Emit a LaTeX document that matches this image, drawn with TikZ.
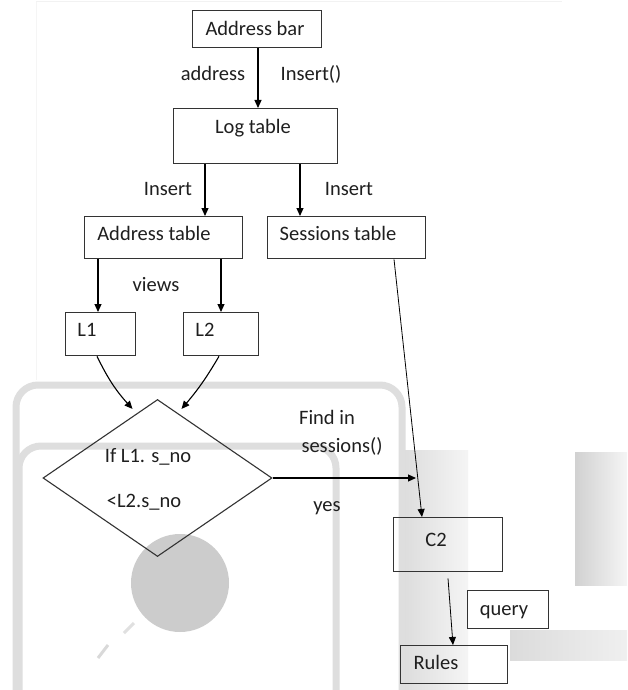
\documentclass[tikz,border=0pt]{standalone}
\usepackage{fontspec}
\setmainfont{Carlito}
\usetikzlibrary{arrows.meta,shapes.geometric,calc}
\begin{document}
\begin{tikzpicture}[x=1pt,y=-1pt,
  box/.style={draw=black!80,line width=1.3pt,anchor=north west,inner sep=0pt},
  lbl/.style={font=\fontsize{20.5}{24}\selectfont,text=black!88,inner sep=0pt,text height=13pt,text depth=4pt,yshift=-2pt},
  arr/.style={line width=1.1pt,-{Triangle[length=8pt,width=7pt]}},
  thin/.style={line width=0.8pt,-{Triangle[length=8pt,width=7pt]}},
  ghost/.style={draw=black!13,line width=7pt,rounded corners=22pt}]
\useasboundingbox[fill=white] (0,0) rectangle (627,690);
% faint background artefacts
\draw[draw=black!5,line width=1pt] (36,2) -- (562,2);
\draw[draw=black!4,line width=1pt] (36,2) -- (36,380);
\shade[left color=black!14,right color=black!4] (400,450) rectangle (468,690);
\shade[left color=black!18,right color=black!4] (575,452) rectangle (627,585);
\shade[left color=black!14,right color=black!6] (510,630) rectangle (627,660);
\draw[ghost] (16,690) -- (16,385) -- (402,385) -- (402,690);
\draw[ghost] (19,690) -- (19,446) -- (336,446) -- (336,690);
\fill[black!20] (180,583) circle (49);
\draw[black!15,line width=3pt] (98,658) -- (108,645);
\draw[black!12,line width=3pt] (124,633) -- (134,623);
% boxes
\node[box,minimum width=129pt,minimum height=37pt] (ab) at (192,10) {};
\node[box,minimum width=164pt,minimum height=55pt] (lt) at (173,108) {};
\node[box,minimum width=158pt,minimum height=42pt] (at) at (84,216) {};
\node[box,minimum width=158pt,minimum height=42pt] (st) at (267,216) {};
\node[box,minimum width=70pt,minimum height=43pt] (l1) at (65,312) {};
\node[box,minimum width=75pt,minimum height=43pt] (l2) at (183,312) {};
\node[box,minimum width=109pt,minimum height=54pt] (c2) at (393,517) {};
\node[box,minimum width=81pt,minimum height=38pt] (qb) at (467,590) {};
\node[box,minimum width=107pt,minimum height=38pt] (ru) at (400,645) {};
\node[diamond,draw=black!80,line width=1.1pt,minimum width=229pt,minimum height=157pt,inner sep=0pt] (d) at (157.5,478) {};
\coordinate (meet) at (416,478);
% texts
\node[lbl] (tab) at (255,29) {Address bar};
\node[lbl] (taddr) at (213,74) {address};
\node[lbl] (tins0) at (311,74) {Insert()};
\node[lbl] (tlt) at (253,127) {Log table};
\node[lbl] (tins1) at (168,189) {Insert};
\node[lbl] (tins2) at (349,189) {Insert};
\node[lbl] (tat) at (154,234) {Address table};
\node[lbl] (tst) at (338,234) {Sessions table};
\node[lbl] (tviews) at (156,285) {views};
\node[lbl] (tl1) at (87,330) {L1};
\node[lbl] (tl2) at (205,330) {L2};
\node[lbl] (td1) at (148,456) {If L1. s\_no};
\node[lbl] (td2) at (144,501) {<L2.s\_no};
\node[lbl] (tfind) at (327,418) {Find in};
\node[lbl] (tsess) at (342,446) {sessions()};
\node[lbl] (tyes) at (327,505) {yes};
\node[lbl] (tc2) at (436,540) {C2};
\node[lbl] (tq) at (504,609) {query};
\node[lbl] (tru) at (436,663) {Rules};
% connectors
\draw[arr] ($(ab.south west)+(66,0)$) -- ($(lt.north west)+(85,0)$);
\draw[arr] ($(lt.south west)+(32,0)$) -- ($(at.north west)+(121,0)$);
\draw[arr] ($(lt.south west)+(127,0)$) -- ($(st.north west)+(33,0)$);
\draw[arr] ($(at.south west)+(14,0)$) -- ($(l1.north west)+(33,0)$);
\draw[arr] ($(at.south west)+(137,0)$) -- ($(l2.north west)+(38,0)$);
\draw[arr] ($(l1.south west)+(32,0)$) to[bend right=8] ($(d.north)+(-25,10)$);
\draw[arr] ($(l2.south west)+(36,0)$) to[bend left=5] ($(d.north)+(24,10)$);
\draw[thin] ($(st.south west)+(127,0)$) -- ($(c2.north west)+(29,0)$);
\draw[arr] (d.east) -- (meet);
\draw[thin] ($(c2.south west)+(55,6)$) -- ($(ru.north west)+(53,0)$);
\end{tikzpicture}
\end{document}
